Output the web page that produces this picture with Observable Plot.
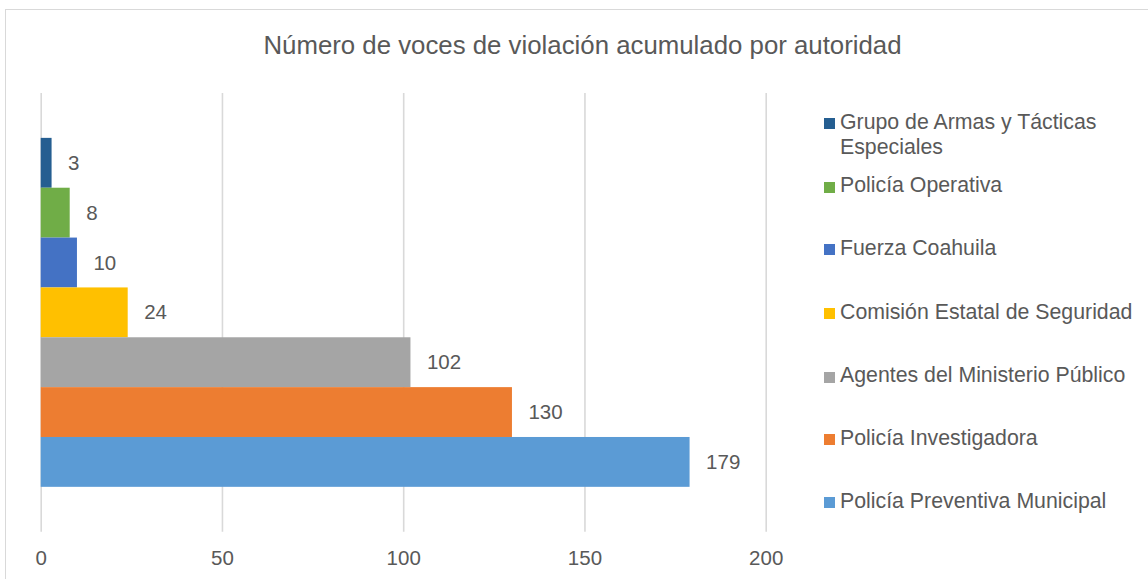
<!DOCTYPE html>
<html><head><meta charset="utf-8">
<script src="https://cdn.jsdelivr.net/npm/d3@7"></script>
<script src="https://cdn.jsdelivr.net/npm/@observablehq/plot@0.6"></script>
<style>
html,body{margin:0;padding:0;background:#fff;overflow:hidden;}
#wrap{position:relative;width:1148px;height:579px;overflow:hidden;font-family:"Liberation Sans",Arial,sans-serif;color:#595959;}
#border{position:absolute;left:5px;top:9px;width:1300px;height:800px;border:1.5px solid #d9d9d9;box-sizing:border-box;}
#chart{position:absolute;left:0;top:0;}
#title{position:absolute;left:0;width:1165px;top:30px;text-align:center;font-size:25.8px;line-height:30px;white-space:nowrap;}
.lg-sq{position:absolute;left:824px;width:11px;height:11px;}
.lg-tx{position:absolute;left:840px;font-size:21.3px;line-height:25px;white-space:nowrap;}
</style>
</head><body>
<div id="wrap">
  <div id="border"></div>
  <div id="chart"></div>
  <div id="title">Número de voces de violación acumulado por autoridad</div>
</div>
<script>
const categories = [
  "Grupo de Armas y Tácticas Especiales",
  "Policía Operativa",
  "Fuerza Coahuila",
  "Comisión Estatal de Seguridad",
  "Agentes del Ministerio Público",
  "Policía Investigadora",
  "Policía Preventiva Municipal"
];
const values = [3, 8, 10, 24, 102, 130, 179];
const colors = ["#255E91", "#70AD47", "#4472C4", "#FFC000", "#A5A5A5", "#ED7D31", "#5B9BD5"];
const xTicks = [0, 50, 100, 150, 200];
const legendLines = [
  ["Grupo de Armas y Tácticas", "Especiales"],
  ["Policía Operativa"],
  ["Fuerza Coahuila"],
  ["Comisión Estatal de Seguridad"],
  ["Agentes del Ministerio Público"],
  ["Policía Investigadora"],
  ["Policía Preventiva Municipal"]
];

const data = categories.map((c, i) => ({cat: c, value: values[i]}));

const chart = Plot.plot({
  width: 1148,
  height: 579,
  marginLeft: 40.7,
  marginRight: 382.3,
  marginTop: 93,
  marginBottom: 47.3,
  style: {fontFamily: "'Liberation Sans', Arial, sans-serif", fontSize: "20.5px", color: "#595959", background: "transparent", overflow: "visible"},
  x: {domain: [0, 200], axis: null, label: null},
  y: {domain: categories, paddingInner: 0, paddingOuter: 0.9, round: false, axis: null, label: null},
  color: {domain: categories, range: colors},
  marks: [
    Plot.ruleX(xTicks, {stroke: "#d9d9d9", strokeWidth: 1.6}),
    Plot.barX(data, {x: "value", y: "cat", fill: "cat"}),
    Plot.text(data, {x: "value", y: "cat", text: d => String(d.value), textAnchor: "start", dx: 16, fontSize: 20.5, fill: "#595959"}),
    Plot.axisX({ticks: xTicks, tickSize: 0, tickPadding: 18, fontSize: 20.5, fill: "#595959", label: null})
  ]
});
document.getElementById("chart").appendChild(chart);

// legend
const wrap = document.getElementById("wrap");
const baselines = [130, 193.3, 256, 320, 383.3, 446, 509];
legendLines.forEach((lines, i) => {
  const sq = document.createElement("div");
  sq.className = "lg-sq";
  sq.style.background = colors[i];
  sq.style.top = (baselines[i] - 11.7) + "px";
  wrap.appendChild(sq);
  const tx = document.createElement("div");
  tx.className = "lg-tx";
  tx.style.top = (baselines[i] - 20) + "px";
  tx.innerHTML = lines.join("<br>");
  wrap.appendChild(tx);
});
</script>
</body></html>
